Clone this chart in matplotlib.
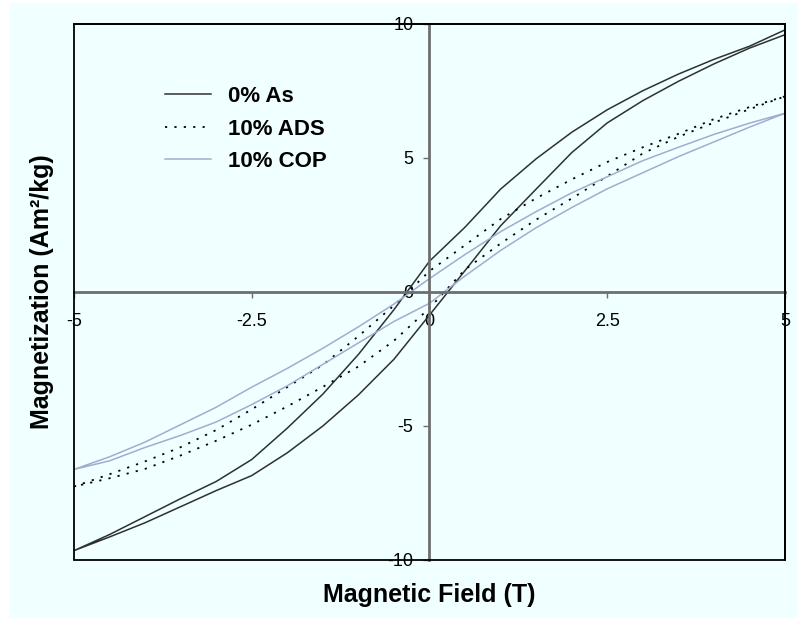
import matplotlib
matplotlib.use("Agg")
import matplotlib.pyplot as plt
from matplotlib.lines import Line2D
from matplotlib.patches import Rectangle

# Applied field (T), shared by every branch of the loops
field = [-5, -4.5, -4, -3.5, -3, -2.5, -2, -1.5, -1, -0.5, 0,
         0.5, 1, 1.5, 2, 2.5, 3, 3.5, 4, 4.5, 5]

# Magnetization (Am2/kg): descending branch (field swept +5 -> -5)
# and ascending branch (field swept -5 -> +5), listed in field order
as0_desc = [-9.65, -9.05, -8.38, -7.71, -7.07, -6.25, -5.08, -3.81, -2.33, -0.66, 1.15,
            2.42, 3.84, 4.97, 5.96, 6.80, 7.51, 8.13, 8.68, 9.17, 9.78]
as0_asc = [-9.63, -9.14, -8.61, -8.01, -7.41, -6.85, -6.00, -5.00, -3.84, -2.51, -0.86,
           0.80, 2.47, 3.84, 5.20, 6.31, 7.14, 7.86, 8.51, 9.10, 9.60]

ads_desc = [-7.26, -6.80, -6.32, -5.79, -5.15, -4.38, -3.55, -2.72, -1.65, -0.50, 0.78,
            1.75, 2.72, 3.50, 4.20, 4.85, 5.40, 5.90, 6.45, 6.90, 7.30]
ads_asc = [-7.26, -6.95, -6.60, -6.10, -5.55, -4.95, -4.27, -3.54, -2.78, -1.82, -0.60,
           0.84, 1.81, 2.70, 3.49, 4.32, 5.17, 5.79, 6.32, 6.82, 7.30]

cop_desc = [-6.62, -6.15, -5.60, -4.95, -4.30, -3.55, -2.85, -2.10, -1.30, -0.45, 0.50,
            1.40, 2.25, 3.00, 3.70, 4.30, 4.90, 5.40, 5.88, 6.30, 6.67]
cop_asc = [-6.62, -6.30, -5.80, -5.35, -4.85, -4.20, -3.50, -2.70, -1.90, -1.10, -0.42,
           0.60, 1.55, 2.40, 3.15, 3.85, 4.45, 5.05, 5.60, 6.15, 6.67]

series_labels = ["0% As", "10% ADS", "10% COP"]
x_ticks = [-5, -2.5, 0, 2.5, 5]
x_tick_labels = ["-5", "-2.5", "0", "2.5", "5"]
y_ticks = [-10, -5, 0, 5, 10]
y_tick_labels = ["-10", "-5", "0", "5", "10"]

plt.rcParams["font.family"] = ["Liberation Sans", "DejaVu Sans"]

BG = "#F0FFFF"
W, H = 798, 618
fig = plt.figure(figsize=(W / 100, H / 100), dpi=100, facecolor="white")
fig.patches.append(Rectangle((9 / W, 0), 1 - 9 / W, 1 - 3 / H, transform=fig.transFigure,
                             facecolor=BG, edgecolor="none", zorder=-10))

left, right, top, bottom = 74, 785, 24, 560
ax = fig.add_axes([left / W, 1 - bottom / H, (right - left) / W, (bottom - top) / H])
ax.set_facecolor(BG)


def loop(desc, asc):
    """Join the two branches into one closed sweep: +5 -> -5 -> +5."""
    xs = list(reversed(field)) + field[1:]
    ys = list(reversed(desc)) + asc[1:]
    return xs, ys


styles = [
    dict(color="#303030", lw=1.1, ls="-"),
    dict(color="black", lw=1.3, ls=(0, (1.2, 4.0))),
    dict(color="#A3ACD0", lw=1.1, ls="-"),
]
for (desc, asc), st in zip([(as0_desc, as0_asc), (ads_desc, ads_asc), (cop_desc, cop_asc)], styles):
    xs, ys = loop(desc, asc)
    ax.plot(xs, ys, **st)

ax.set_xlim(-5, 5)
ax.set_ylim(-10, 10)

# zero-crossing axes carry the ticks, the frame is drawn as a plain box
ax.spines["left"].set_position(("data", 0))
ax.spines["bottom"].set_position(("data", 0))
for s in ("left", "bottom"):
    ax.spines[s].set_color("#6E6E6E")
    ax.spines[s].set_linewidth(2)
for s in ("top", "right"):
    ax.spines[s].set_color("black")
    ax.spines[s].set_linewidth(1.3)
ax.add_patch(Rectangle((0, 0), 1, 1, transform=ax.transAxes, fill=False,
                       edgecolor="black", lw=1.3, clip_on=False, zorder=3))

ax.set_xticks(x_ticks)
ax.set_xticklabels(x_tick_labels)
ax.set_yticks(y_ticks)
ax.set_yticklabels(y_tick_labels)
ax.tick_params(axis="x", direction="out", length=4, width=1, color="#6E6E6E",
               pad=11, labelsize=13)
ax.tick_params(axis="y", direction="out", length=4, width=1, color="#6E6E6E",
               pad=7.5, labelsize=13)

handles = [Line2D([], [], **st) for st in styles]
ax.legend(handles, series_labels, loc="upper left",
          bbox_to_anchor=(165 / W, 1 - 86 / H), bbox_transform=fig.transFigure,
          frameon=False, borderpad=0, borderaxespad=0, handlelength=2.05,
          handletextpad=0.8, labelspacing=0.52,
          prop=dict(family="Liberation Sans", weight="bold", size=16))

fig.text(429 / W, 1 - 595 / H, "Magnetic Field (T)", ha="center", va="center",
         fontsize=18, fontweight="bold")
fig.text(42 / W, 1 - 292 / H, "Magnetization (Am²/kg)", ha="center", va="center",
         rotation=90, fontsize=18, fontweight="bold")

fig.savefig("out.png", dpi=100, facecolor=fig.get_facecolor())
